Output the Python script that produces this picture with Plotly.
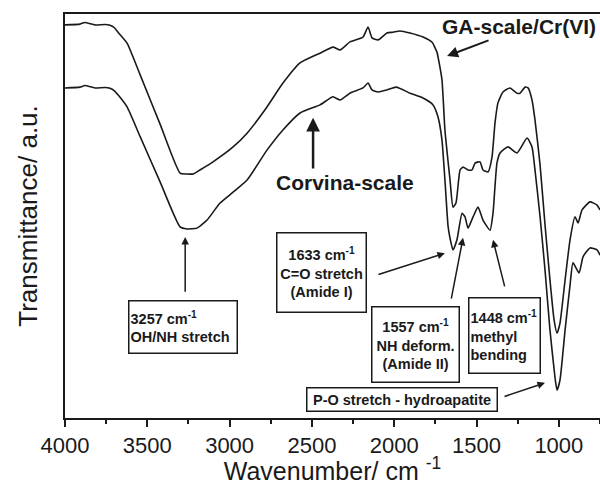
import plotly.graph_objects as go

# FTIR spectra (transmittance, arbitrary units) of the two scale samples
wn_ga = [4000, 3909, 3880, 3818, 3757, 3727, 3700, 3678, 3623, 3544, 3423, 3301, 3259,
         3222, 3180, 3101, 2979, 2894, 2773, 2676, 2572, 2451, 2372, 2329, 2269, 2190,
         2159, 2135, 2098, 2044, 2007, 1965, 1904, 1825, 1770, 1740, 1734, 1710, 1692,
         1661, 1643, 1625, 1600, 1582, 1552, 1527, 1509, 1479, 1461, 1430, 1406, 1388,
         1370, 1339, 1297, 1254, 1236, 1205, 1187, 1163, 1145, 1114, 1084, 1054, 1029,
         1011, 993, 962, 932, 902, 883, 859, 811, 768, 750]
t_ga = [97.3, 97.5, 97.9, 97.3, 97.4, 97.2, 96.6, 95.5, 92.8, 85.0, 72.8, 60.6, 60.4,
        60.4, 61.4, 63.4, 67.1, 70.5, 77.0, 82.9, 87.9, 90.3, 91.8, 91.1, 93.1, 94.3,
        96.8, 94.1, 93.6, 95.3, 95.5, 95.8, 95.3, 94.3, 93.0, 90.5, 89.4, 83.7, 71.3,
        58.9, 52.2, 53.2, 61.4, 62.1, 61.4, 61.4, 63.1, 63.4, 61.4, 60.9, 64.6, 73.0,
        78.0, 80.7, 81.7, 80.4, 80.4, 81.9, 81.7, 78.7, 73.8, 62.6, 47.8, 34.2, 24.3,
        21.0, 23.5, 34.2, 44.1, 49.8, 48.3, 51.5, 53.5, 52.7, 51.5]

wn_corvina = [4000, 3909, 3880, 3818, 3757, 3727, 3700, 3678, 3623, 3544, 3423, 3301,
              3259, 3198, 3137, 3058, 2979, 2894, 2773, 2676, 2572, 2451, 2372, 2329,
              2269, 2190, 2159, 2135, 2098, 2044, 1988, 1904, 1825, 1764, 1734, 1710,
              1692, 1673, 1661, 1643, 1619, 1588, 1570, 1552, 1521, 1491, 1461, 1418,
              1400, 1376, 1357, 1309, 1254, 1193, 1163, 1145, 1114, 1084, 1054, 1023,
              1011, 993, 962, 932, 914, 877, 853, 811, 768, 750]
t_corvina = [81.7, 81.9, 82.3, 81.7, 81.8, 81.6, 81.0, 80.0, 77.0, 69.7, 58.5, 47.3,
             46.8, 47.0, 49.0, 53.2, 55.9, 58.9, 66.3, 71.3, 75.5, 77.5, 79.5, 78.7,
             80.4, 81.7, 82.9, 81.2, 80.7, 81.2, 81.9, 80.4, 79.2, 77.5, 74.5, 68.8,
             58.9, 47.5, 44.5, 41.6, 44.1, 50.7, 49.8, 47.0, 49.8, 52.2, 49.0, 46.5,
             50.7, 63.1, 65.6, 67.1, 65.6, 69.3, 67.1, 61.4, 49.8, 36.6, 21.8, 9.9,
             6.9, 9.4, 21.8, 32.9, 38.4, 35.9, 39.9, 42.1, 41.6, 40.3]

x_ticks = [4000, 3500, 3000, 2500, 2000, 1500, 1000]
x_tick_labels = ["4000", "3500", "3000", "2500", "2000", "1500", "1000"]

FONT = "Liberation Sans, Arial, sans-serif"
INK = "#1a1a1a"

fig = go.Figure()
for wn, t, name in [(wn_ga, t_ga, "GA-scale/Cr(VI)"), (wn_corvina, t_corvina, "Corvina-scale")]:
    fig.add_trace(go.Scatter(
        x=wn, y=t, mode="lines", name=name,
        line=dict(color=INK, width=1.6, shape="spline", smoothing=0.5),
        showlegend=False, hoverinfo="skip",
    ))

annotations = []

# series labels with arrows
annotations.append(dict(x=1240, y=96.8, xref="x", yref="y", text="<b>GA-scale/Cr(VI)</b>",
                        showarrow=False, font=dict(family=FONT, size=21, color=INK)))
annotations.append(dict(x=2299, y=58.4, xref="x", yref="y", text="<b>Corvina-scale</b>",
                        showarrow=False, font=dict(family=FONT, size=21, color=INK)))

def arrow(head, tail, width=1.5, size=1.0):
    return dict(x=head[0], y=head[1], ax=tail[0], ay=tail[1], xref="x", yref="y",
                axref="x", ayref="y", text="", showarrow=True, arrowhead=2,
                arrowsize=size, arrowwidth=width, arrowcolor=INK, standoff=0, startstandoff=0)

annotations.append(arrow((1679, 89.6), (1418, 93.6), width=2, size=1.1))
annotations.append(arrow((2493, 74.3), (2493, 61.4), width=2.5, size=1.1))

# band assignments
annotations.append(arrow((3270, 44.8), (3270, 30.9)))
annotations.append(arrow((1692, 40.8), (2105, 35.4)))
annotations.append(arrow((1582, 44.6), (1655, 29.2)))
annotations.append(arrow((1400, 44.1), (1327, 32.2)))
annotations.append(arrow((1084, 8.7), (1339, 5.2)))

def box(x, y, text, w, h, align="center"):
    return dict(x=x, y=y, xref="x", yref="y", text=text, showarrow=False,
                xanchor="center", yanchor="middle", align=align,
                width=w, height=h, bordercolor=INK, borderwidth=1.5, borderpad=1,
                bgcolor="white", font=dict(family=FONT, size=14.5, color=INK))

annotations.append(box(3286, 22.6, "<b>3257 cm<sup>-1</sup><br>OH/NH stretch</b>", 105, 49, "left"))
annotations.append(box(2439, 35.9, "<b>1633 cm<sup>-1</sup><br>C=O stretch<br>(Amide I)</b>", 86, 76))
annotations.append(box(1868, 18.1, "<b>1557 cm<sup>-1</sup><br>NH deform.<br>(Amide II)</b>", 84, 72))
annotations.append(box(1333, 20.5, "<b>1448 cm<sup>-1</sup><br>methyl<br>bending</b>", 68, 72, "left"))
annotations.append(box(1950, 4.5, "<b>P-O stretch - hydroapatite</b>", 187, 20))

fig.update_layout(
    width=600, height=485,
    margin=dict(l=65, r=0, t=14, b=67),
    paper_bgcolor="white", plot_bgcolor="white",
    font=dict(family=FONT, color=INK),
    annotations=annotations,
    xaxis=dict(
        range=[4000, 750], tickvals=x_ticks, ticktext=x_tick_labels,
        ticks="outside", ticklen=7, tickwidth=2, tickcolor=INK,
        minor=dict(dtick=250, tick0=0, ticks="outside", ticklen=4, tickwidth=2,
                   tickcolor=INK, showgrid=False),
        showline=True, linewidth=2, linecolor=INK, mirror=True,
        showgrid=False, zeroline=False,
        tickfont=dict(family=FONT, size=22, color=INK),
        title=dict(text="Wavenumber/ cm <sup>-1</sup>", standoff=4,
                   font=dict(family=FONT, size=25, color=INK)),
        automargin=False,
    ),
    yaxis=dict(
        range=[0, 100], showticklabels=False, ticks="",
        showline=True, linewidth=2, linecolor=INK,
        showgrid=False, zeroline=False,
        title=dict(text="Transmittance/ a.u.", standoff=18,
                   font=dict(family=FONT, size=26, color=INK)),
        automargin=False,
    ),
)

fig.write_html("out.html")
